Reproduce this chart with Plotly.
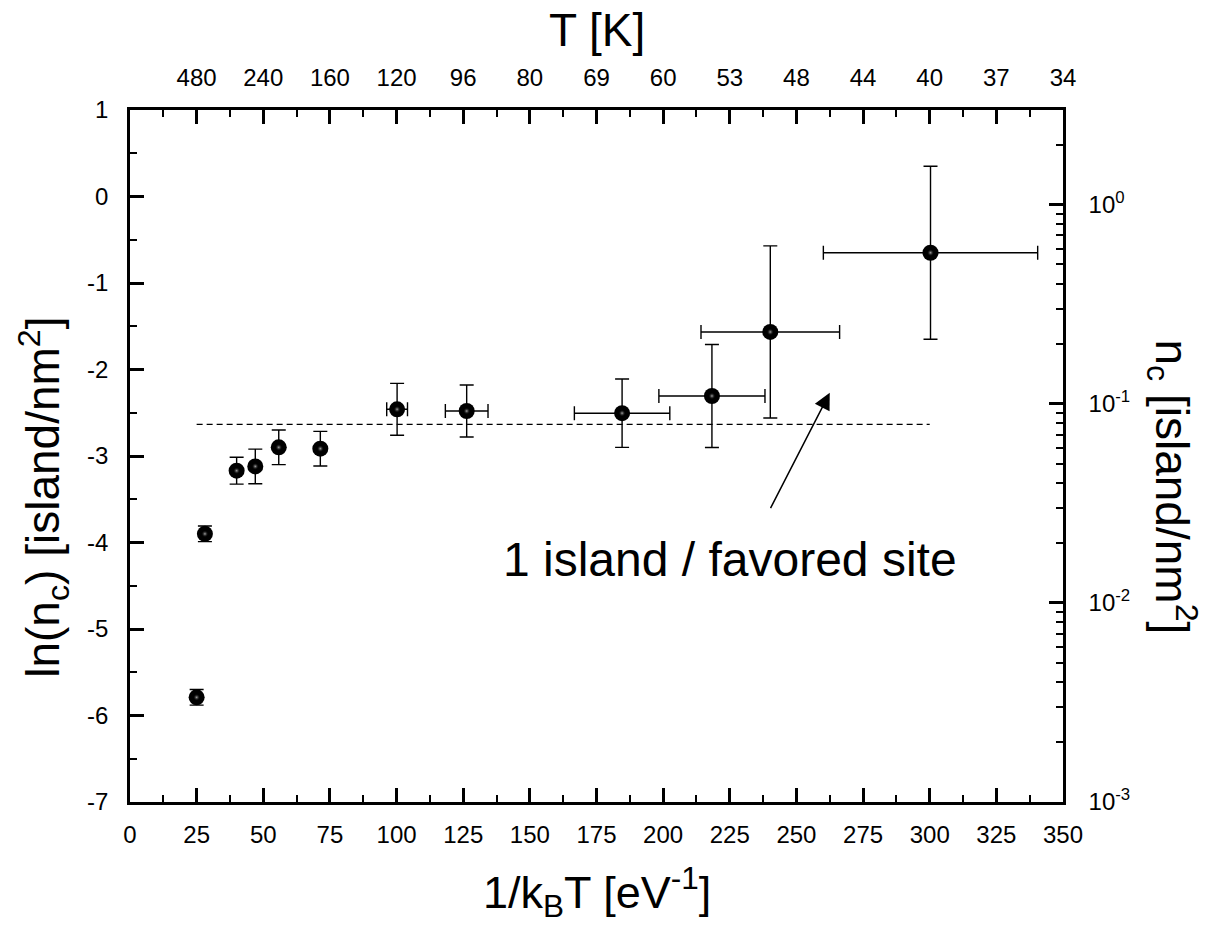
import plotly.graph_objects as go
import numpy as np

# ---------------- data ----------------
inv_kT = [25.0, 28.1, 40.0, 47.0, 55.8, 71.4, 100.2, 126.3, 184.6, 218.3, 240.2, 300.3]
ln_nc = [-5.79, -3.90, -3.17, -3.12, -2.90, -2.915, -2.46, -2.48, -2.505, -2.306, -1.566, -0.65]
ln_nc_err = [0.09, 0.09, 0.155, 0.20, 0.20, 0.20, 0.30, 0.30, 0.395, 0.595, 0.995, 1.0]
inv_kT_err = [0, 0, 0, 0, 0, 0, 3.9, 8.0, 17.9, 19.9, 26.0, 40.2]

plateau_x = [25, 300]
plateau_y = [-2.634, -2.634]

x_ticks = list(range(0, 351, 25))
x_minor = [12.5 + 25 * i for i in range(14)]
y_ticks = list(range(-7, 2))
y_labels = [str(v) for v in y_ticks]  # plain hyphen minus as in the reference
y_minor = [-6.5 + i for i in range(8)]

top_ticks = list(range(25, 351, 25))
top_labels = ["480", "240", "160", "120", "96", "80", "69", "60", "53", "48", "44", "40", "37", "34"]

right_ticks = [1e-3, 1e-2, 1e-1, 1e0]
right_labels = ["10<sup>-3</sup>", "10<sup>-2</sup>", "10<sup>-1</sup>", "10<sup>0</sup>"]
right_minor = [m * d for d in [1e-3, 1e-2, 1e-1, 1e0] for m in range(2, 10)]
right_range = [-3, -3 + 8 / np.log(10)]

arrow_tail = (240, -3.62)
arrow_head = (262.5, -2.27)
note_text = "1 island / favored site"
note_pos = (225, -4.2)

# ---------------- figure ----------------
TICKFONT = dict(family="Liberation Sans, Arial, sans-serif", size=24, color="black")
TITLEFONT = "Liberation Sans Narrow, Arial Narrow, Liberation Sans, Arial, sans-serif"

fig = go.Figure()

fig.add_trace(go.Scatter(
    x=plateau_x, y=plateau_y, mode="lines",
    line=dict(color="black", width=1.2, dash="6px,4px"),
    hoverinfo="skip", showlegend=False))

fig.add_trace(go.Scatter(
    x=inv_kT, y=ln_nc, mode="markers",
    error_y=dict(type="data", array=ln_nc_err, color="black", thickness=1.4, width=7),
    error_x=dict(type="data", array=inv_kT_err, color="black", thickness=1.4, width=7),
    marker=dict(size=16, color="black", line=dict(width=0)),
    showlegend=False))

fig.add_trace(go.Scatter(
    x=inv_kT, y=ln_nc, mode="markers",
    marker=dict(size=7, color="rgba(0,0,0,0)", line=dict(width=0),
                gradient=dict(type="radial", color="#a8a8a8")),
    hoverinfo="skip", showlegend=False))

# dummy trace on the secondary axes so they are drawn
fig.add_trace(go.Scatter(x=[None], y=[None], xaxis="x2", yaxis="y2",
                         mode="markers", showlegend=False, hoverinfo="skip"))

common = dict(showline=True, linecolor="black", linewidth=2.5, ticks="inside",
              ticklen=14, tickwidth=2.5, tickcolor="black", showgrid=False,
              zeroline=False, tickfont=TICKFONT)
minor_common = dict(ticks="inside", ticklen=7, tickwidth=2, tickcolor="black")

fig.update_layout(
    width=1209, height=930,
    margin=dict(l=130, r=146, t=110, b=128),
    plot_bgcolor="white", paper_bgcolor="white",
    xaxis=dict(range=[0, 350], tickvals=x_ticks, ticklabelstandoff=9,
               minor=dict(tickvals=x_minor, **minor_common), **common),
    yaxis=dict(range=[-7, 1], tickvals=y_ticks, ticktext=y_labels, ticklabelstandoff=14,
               minor=dict(tickvals=y_minor, **minor_common), **common),
    xaxis2=dict(range=[0, 350], overlaying="x", side="top", anchor="y",
                tickvals=top_ticks, ticktext=top_labels, ticklabelstandoff=12,
                minor=dict(tickvals=x_minor, **minor_common), **common),
    yaxis2=dict(type="log", range=right_range, overlaying="y", side="right", anchor="x",
                tickvals=right_ticks, ticktext=right_labels, ticklabelstandoff=18,
                minor=dict(tickvals=right_minor, **minor_common), **common),
)

ann = []
ann.append(dict(text="T [K]", xref="paper", yref="paper", x=0.5, y=1.116,
                xanchor="center", yanchor="middle", showarrow=False,
                font=dict(family=TITLEFONT, size=46, color="black")))
ann.append(dict(text="1/k<sub>B</sub>T [eV<sup>-1</sup>]", xref="paper", yref="paper", x=0.5, y=-0.13,
                xanchor="center", yanchor="middle", showarrow=False,
                font=dict(family=TITLEFONT, size=45, color="black")))
ann.append(dict(text="ln(n<sub>c</sub>) [island/nm<sup>2</sup>]", xref="paper", yref="paper",
                x=-0.093, y=0.44, xanchor="center", yanchor="middle", textangle=-90, showarrow=False,
                font=dict(family=TITLEFONT, size=46, color="black")))
ann.append(dict(text="n<sub>c</sub> [island/nm<sup>2</sup>]", xref="paper", yref="paper",
                x=1.1175, y=0.455, xanchor="center", yanchor="middle", textangle=90, showarrow=False,
                font=dict(family=TITLEFONT, size=46, color="black")))
ann.append(dict(text=note_text, xref="x", yref="y", x=note_pos[0], y=note_pos[1],
                xanchor="center", yanchor="middle", showarrow=False,
                font=dict(family="Liberation Sans, Arial, sans-serif", size=48, color="black")))
ann.append(dict(text="", xref="x", yref="y", x=arrow_head[0], y=arrow_head[1],
                axref="x", ayref="y", ax=arrow_tail[0], ay=arrow_tail[1],
                showarrow=True, arrowhead=2, arrowsize=2.2, arrowwidth=1.5, arrowcolor="black"))
fig.update_layout(annotations=ann)

fig.write_html("out.html")
